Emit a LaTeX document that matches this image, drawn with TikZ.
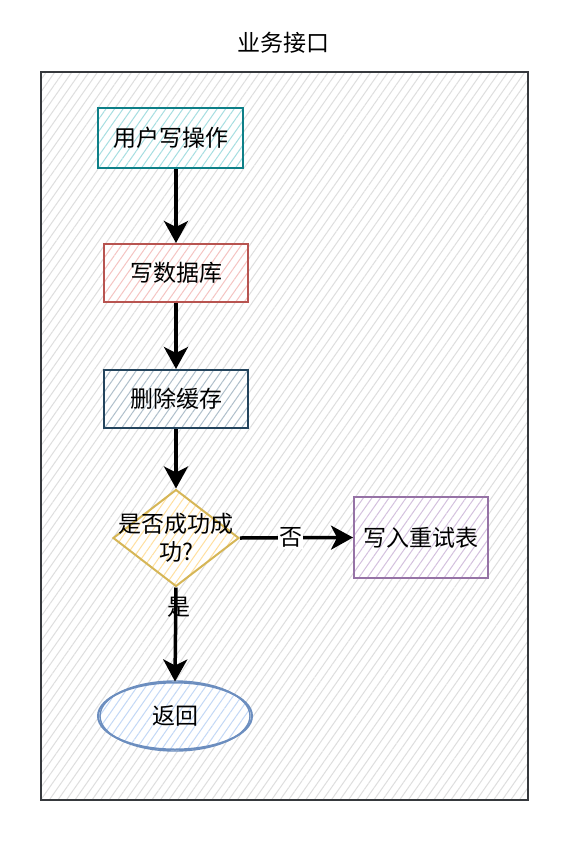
\documentclass[tikz,border=0pt]{standalone}
\usepackage{fontspec}
\newfontfamily\cjk{Noto Sans CJK SC}
\usetikzlibrary{shapes.geometric,arrows.meta,patterns.meta}
\definecolor{tealS}{HTML}{0E8088}\definecolor{tealF}{HTML}{A6DEE1}
\definecolor{redS}{HTML}{B85450}\definecolor{redF}{HTML}{F5C4C2}
\definecolor{blueS}{HTML}{23445D}\definecolor{blueF}{HTML}{AFBFCB}
\definecolor{yelS}{HTML}{D6B656}\definecolor{yelF}{HTML}{FFE0A0}
\definecolor{purS}{HTML}{9673A6}\definecolor{purF}{HTML}{D4C1DE}
\definecolor{ellS}{HTML}{6C8EBF}\definecolor{ellF}{HTML}{C3D8F6}
\definecolor{boxS}{HTML}{36393D}\definecolor{boxF}{HTML}{DEDEDE}
\tikzset{
  hatch/.style={preaction={fill=white},pattern={Lines[angle=55,distance=7pt,line width=1pt]},pattern color=#1},
  box/.style n args={2}{draw=#1,line width=2pt,hatch=#2,inner sep=0pt,font=\cjk\fontsize{23}{28}\selectfont},
  arr/.style={line width=3.5pt,-{Stealth[length=22pt,width=24pt,inset=6pt]}},
  lbl/.style={inner sep=1pt,font=\cjk\fontsize{23}{28}\selectfont}
}
\begin{document}
\begin{tikzpicture}[x=1pt,y=-1pt]
\useasboundingbox (0,0) rectangle (564,846);
\node[font=\cjk\fontsize{23}{28}\selectfont] (title) at (283,43) {业务接口};
\node[draw=boxS,line width=1.8pt,hatch=boxF,minimum width=487pt,minimum height=728pt,inner sep=0pt] (frame) at (284.5,436) {};
\node[box={tealS}{tealF},minimum width=145pt,minimum height=60pt] (n1) at (170.5,138) {用户写操作};
\node[box={redS}{redF},minimum width=144pt,minimum height=58pt] (n2) at (176,273) {写数据库};
\node[box={blueS}{blueF},minimum width=144pt,minimum height=58pt] (n3) at (176,399) {删除缓存};
\node[box={yelS}{yelF},shape=diamond,minimum width=126pt,minimum height=97pt] (d) at (176,538) {};
\node[font=\cjk\fontsize{23}{28}\selectfont,align=center] (dt) at (176,538) {是否成功成\\功?};
\node[box={purS}{purF},minimum width=134pt,minimum height=81pt] (n4) at (421,537.5) {写入重试表};
\node[box={ellS}{ellF},shape=ellipse,minimum width=154pt,minimum height=67pt] (e) at (175,716) {返回};
\draw[ellS,line width=1.4pt] (175,716) ellipse [x radius=75pt,y radius=35pt];
\draw[arr] (n2.north |- n1.south) -- (n2.north);
\draw[arr] (n2) -- (n3);
\draw[arr] (n3) -- (d);
\draw[arr] (d.east) -- node[lbl,fill=white,pos=0.45] {否} (n4.west);
\draw[arr] (d.south) -- node[lbl,pos=0.21,xshift=3pt] {是} (e.north);
\end{tikzpicture}
\end{document}
